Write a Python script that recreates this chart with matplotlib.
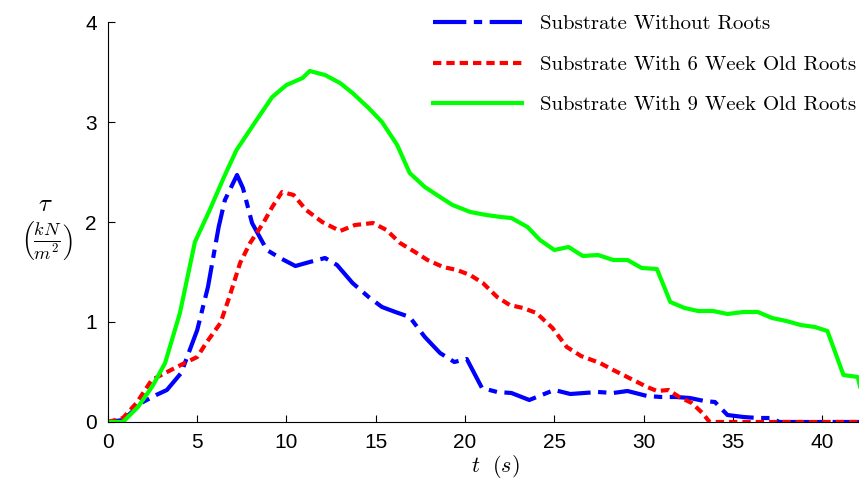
import numpy as np
import matplotlib
matplotlib.use("Agg")
import matplotlib.pyplot as plt
from matplotlib.font_manager import FontProperties

plt.rcParams['mathtext.fontset'] = 'cm'

# 无根基质
t_blue = [0, 0.84, 1.96, 2.7, 3.3, 4.1, 5.0, 5.6, 6.2, 6.55, 7.23, 7.56, 8.07, 8.9, 9.64,
          10.5, 11.3, 12.16, 12.83, 13.7, 14.6, 15.35, 16.1, 16.9, 17.75, 18.6, 19.4, 20.1,
          20.95, 21.8, 22.6, 23.6, 24.3, 25.0, 25.9, 27.45, 28.3, 29.1, 30.2, 31.0, 31.8,
          32.6, 33.4, 34.0, 34.7, 35.6, 36.4, 37.2, 37.6, 42.5]
tau_blue = [0, 0.02, 0.2, 0.27, 0.32, 0.49, 0.92, 1.35, 1.95, 2.22, 2.47, 2.34, 1.99, 1.72, 1.64,
            1.56, 1.6, 1.64, 1.57, 1.39, 1.25, 1.15, 1.10, 1.05, 0.85, 0.69, 0.60, 0.63,
            0.34, 0.30, 0.29, 0.22, 0.27, 0.32, 0.28, 0.30, 0.29, 0.31, 0.26, 0.25, 0.25,
            0.24, 0.21, 0.20, 0.07, 0.05, 0.04, 0.04, 0.0, 0.0]

# 6周根系
t_red = [0, 0.84, 1.6, 2.45, 3.2, 4.3, 5.0, 5.5, 6.3, 6.8, 7.4, 7.96, 8.7, 9.2, 9.75, 10.4,
         11.1, 12.0, 13.0, 13.84, 14.85, 15.6, 16.36, 17.2, 17.9, 18.77, 19.55, 20.28, 21.0,
         21.8, 22.5, 23.25, 24.0, 24.9, 25.7, 26.5, 27.56, 28.3, 29.2, 30.2, 30.76, 31.4,
         32.0, 32.7, 33.3, 33.7, 42.5]
tau_red = [0, 0.04, 0.19, 0.42, 0.49, 0.59, 0.65, 0.79, 0.99, 1.25, 1.59, 1.79, 1.99, 2.15, 2.30, 2.27,
           2.12, 2.0, 1.91, 1.97, 1.99, 1.92, 1.79, 1.70, 1.62, 1.55, 1.52, 1.47, 1.39,
           1.25, 1.17, 1.14, 1.09, 0.94, 0.75, 0.66, 0.59, 0.52, 0.44, 0.35, 0.31, 0.32,
           0.25, 0.19, 0.09, 0.0, 0.0]

# 9周根系
t_green = [0, 0.84, 1.68, 2.5, 3.2, 4.03, 4.87, 5.7, 6.5, 7.2, 8.4, 9.2, 10.0, 10.9, 11.3,
           12.16, 13.0, 13.7, 14.6, 15.35, 16.2, 16.9, 17.75, 18.6, 19.3, 20.3, 21.2, 22.0,
           22.6, 23.5, 24.2, 25.0, 25.8, 26.6, 27.45, 28.3, 29.1, 29.9, 30.75, 31.5, 32.3,
           33.06, 33.9, 34.7, 35.6, 36.4, 37.2, 38.0, 38.8, 39.6, 40.3, 41.2, 42.0, 42.6]
tau_green = [0, 0, 0.15, 0.36, 0.59, 1.09, 1.80, 2.12, 2.45, 2.72, 3.04, 3.25, 3.37, 3.44, 3.51,
             3.47, 3.39, 3.29, 3.14, 3.0, 2.77, 2.49, 2.35, 2.25, 2.17, 2.10, 2.07, 2.05,
             2.04, 1.95, 1.82, 1.72, 1.75, 1.66, 1.67, 1.62, 1.62, 1.54, 1.53, 1.20, 1.14,
             1.11, 1.11, 1.08, 1.10, 1.10, 1.04, 1.01, 0.97, 0.95, 0.91, 0.47, 0.45, 0.0]

labels = ["Substrate Without Roots",
          "Substrate With 6 Week Old Roots",
          "Substrate With 9 Week Old Roots"]

fig = plt.figure(figsize=(8.59, 4.86), dpi=100)
ax = fig.add_axes([0.1257, 0.1317, 0.8743, 0.823])

ax.plot(t_blue, tau_blue, color=(0, 0, 1), lw=3, dashes=(8, 1.8, 2, 1.8), label=labels[0])
ax.plot(t_red, tau_red, color=(1, 0, 0), lw=3, dashes=(2, 1.2), label=labels[1])
ax.plot(t_green, tau_green, color=(0, 1, 0), lw=3, label=labels[2])

ax.set_xlim(0, 42.07)
ax.set_ylim(0, 4)
ax.set_xticks([0, 5, 10, 15, 20, 25, 30, 35, 40])
ax.set_yticks([0, 1, 2, 3, 4])
ax.spines['top'].set_visible(False)
ax.spines['right'].set_visible(False)
ax.tick_params(direction='in', length=5, width=0.8, pad=8)
for lab in ax.get_xticklabels() + ax.get_yticklabels():
    lab.set_fontfamily('Liberation Sans')
    lab.set_fontsize(15)

fig.text(0.576, 0.04, r'$t\ \ (s)$', fontsize=16, ha='center', va='center')
fig.text(0.053, 0.58, r'$\tau$', fontsize=18, ha='center', va='center')
fig.text(0.054, 0.505, r'$\left(\frac{kN}{m^2}\right)$', fontsize=19, ha='center', va='center')

leg = ax.legend(loc='upper right', bbox_to_anchor=(1.0213, 1.065), frameon=False,
                prop=FontProperties(family='cmr10', size=15),
                handlelength=4.3, handletextpad=0.85, labelspacing=1.05)

plt.savefig("out.png", dpi=100)
